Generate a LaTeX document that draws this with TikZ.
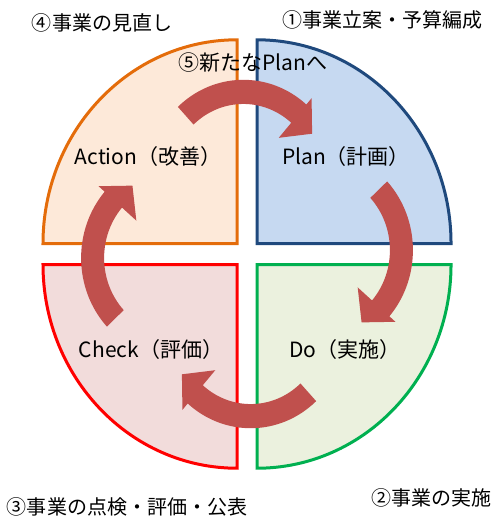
\documentclass[tikz,border=0pt]{standalone}
\usepackage{fontspec}
\setmainfont{Noto Sans CJK JP}
\usepackage{xcolor}
\usepackage{tikz}

\definecolor{actline}{RGB}{228,108,10}
\definecolor{actfill}{RGB}{253,233,217}
\definecolor{planline}{RGB}{31,73,125}
\definecolor{planfill}{RGB}{198,217,241}
\definecolor{chkline}{RGB}{255,0,0}
\definecolor{chkfill}{RGB}{242,220,219}
\definecolor{doline}{RGB}{0,176,80}
\definecolor{dofill}{RGB}{235,241,222}
\definecolor{arrowred}{RGB}{192,80,77}

\begin{document}
\begin{tikzpicture}[x=1pt, y=1pt, yscale=1.05,
  sector/.style 2 args={draw=#1, fill=#2, line width=3pt},
  cyclearrow/.style={fill=arrowred},
  phasetext/.style={font=\fontsize{21}{25}\selectfont, inner sep=0pt},
  stagetext/.style={font=\fontsize{20}{24}\selectfont, inner sep=0pt}]
\useasboundingbox (-247,241.9) rectangle (247,-251.4);
\draw[sector={actline}{actfill}] (-10,10) -- (-204,10) arc[start angle=180, end angle=90, radius=194] -- cycle;
\draw[sector={planline}{planfill}] (10,10) -- (10,204) arc[start angle=90, end angle=0, radius=194] -- cycle;
\draw[sector={chkline}{chkfill}] (-10,-10) -- (-10,-204) arc[start angle=270, end angle=180, radius=194] -- cycle;
\draw[sector={doline}{dofill}] (10,-10) -- (204,-10) arc[start angle=0, end angle=-90, radius=194] -- cycle;
\foreach \ang in {93,3,-87,183}
  \fill[cyclearrow, shift={(\ang:70)}, rotate=\ang] (40:96) arc[start angle=40, end angle=-44, radius=96]
    -- (-44:104) -- (-60:82) -- (-44:54) -- (-44:73) arc[start angle=-44, end angle=40, radius=73] -- cycle;
\node[stagetext] (review) at (-145,220) {④事業の見直し};
\node[stagetext] (budget) at (135,222.9) {①事業立案・予算編成};
\node[stagetext, font=\fontsize{21}{25}\selectfont] (newplan) at (6,181.9) {⑤新たなPlanへ};
\node[phasetext] (action) at (-99,92.4) {Action（改善）};
\node[phasetext] (plan) at (99,92.4) {Plan（計画）};
\node[phasetext] (check) at (-96,-91.4) {Check（評価）};
\node[phasetext] (do) at (98,-91.4) {Do（実施）};
\node[stagetext] (publish) at (-120,-241) {③事業の点検・評価・公表};
\node[stagetext] (execute) at (184,-232.4) {②事業の実施};
\end{tikzpicture}
\end{document}
